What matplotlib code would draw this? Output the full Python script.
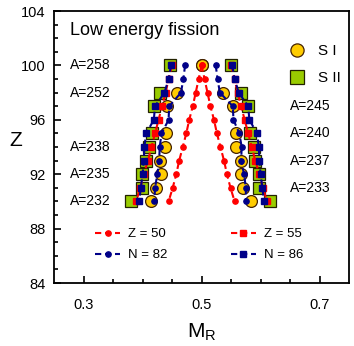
import matplotlib
matplotlib.use('Agg')
import matplotlib.pyplot as plt
from matplotlib.lines import Line2D

plt.rcParams['font.family'] = ['Liberation Sans', 'DejaVu Sans']

# fissioning systems (rows of symbols)
z_rows = [100, 98, 97, 95, 94, 93, 92, 91, 90]
s1_left = [0.500, 0.459, 0.442, 0.440, 0.438, 0.430, 0.431, 0.423, 0.414]
s1_right = [0.500, 0.536, 0.553, 0.558, 0.558, 0.567, 0.567, 0.571, 0.584]
s2_left = [0.447, 0.430, 0.419, 0.416, 0.411, 0.406, 0.399, 0.399, 0.380]
s2_right = [0.550, 0.567, 0.578, 0.582, 0.588, 0.591, 0.597, 0.598, 0.616]

# shell lines, one point per Z
z_line = [100, 99, 98, 97, 96, 95, 94, 93, 92, 91, 90]
z50_left = [0.500, 0.495, 0.490, 0.485, 0.479, 0.474, 0.468, 0.462, 0.457, 0.451, 0.444]
z50_right = [0.500, 0.505, 0.510, 0.515, 0.521, 0.526, 0.532, 0.538, 0.543, 0.549, 0.556]
z55_left = [0.450, 0.444, 0.439, 0.433, 0.427, 0.421, 0.415, 0.409, 0.402, 0.396, 0.389]
z55_right = [0.550, 0.556, 0.561, 0.567, 0.573, 0.579, 0.585, 0.591, 0.598, 0.604, 0.611]
n82_left = [0.472, 0.469, 0.465, 0.445, 0.444, 0.432, 0.429, 0.428, 0.425, 0.421, 0.420]
n82_right = [0.524, 0.527, 0.531, 0.553, 0.554, 0.564, 0.568, 0.567, 0.572, 0.575, 0.575]
n86_left = [0.448, 0.444, 0.437, 0.421, 0.419, 0.406, 0.403, 0.402, 0.400, 0.397, 0.394]
n86_right = [0.552, 0.556, 0.563, 0.579, 0.581, 0.594, 0.597, 0.598, 0.600, 0.603, 0.606]

# mass number labels
labels_left = ['A=258', 'A=252', 'A=238', 'A=235', 'A=232']
labels_left_z = [100, 98, 94, 92, 90]
labels_right = ['A=245', 'A=240', 'A=237', 'A=233']
labels_right_z = [97, 95, 93, 91]

yellow = '#FFCC00'
green = '#99CC00'
red = '#FF0000'
blue = '#000088'

fig = plt.figure(figsize=(3.54, 3.46), dpi=100)
ax = fig.add_axes([0.153, 0.182, 0.833, 0.786])

ax.plot(s2_left, z_rows, 's', ms=9, mfc=green, mec='#222200', mew=0.9, zorder=2)
ax.plot(s2_right, z_rows, 's', ms=9, mfc=green, mec='#222200', mew=0.9, zorder=2)
ax.plot(s1_left, z_rows, 'o', ms=8.5, mfc=yellow, mec='#442200', mew=0.9, zorder=3)
ax.plot(s1_right, z_rows, 'o', ms=8.5, mfc=yellow, mec='#442200', mew=0.9, zorder=3)

dash = (0, (3, 1.8))
for xs in (z50_left, z50_right):
    ax.plot(xs, z_line, color=red, ls=dash, lw=1.5, marker='o', ms=3.8, zorder=4)
for xs in (z55_left, z55_right):
    ax.plot(xs, z_line, color=red, ls=dash, lw=1.5, marker='s', ms=3.8, zorder=4)
for xs in (n82_left, n82_right):
    ax.plot(xs, z_line, color=blue, ls=dash, lw=1.5, marker='o', ms=3.8, zorder=5)
for xs in (n86_left, n86_right):
    ax.plot(xs, z_line, color=blue, ls=dash, lw=1.5, marker='s', ms=3.8, zorder=5)

for t, z in zip(labels_left, labels_left_z):
    ax.text(0.277, z, t, fontsize=10, va='center', ha='left')
for t, z in zip(labels_right, labels_right_z):
    ax.text(0.650, z, t, fontsize=10, va='center', ha='left')

ax.text(0.054, 0.930, 'Low energy fission', transform=ax.transAxes,
        fontsize=13, va='center', ha='left')

# symbol legend (top right)
sym = [Line2D([], [], ls='none', marker='o', ms=9.5, mfc=yellow, mec='#442200', mew=0.9),
       Line2D([], [], ls='none', marker='s', ms=9.5, mfc=green, mec='#222200', mew=0.9)]
leg1 = ax.legend(sym, ['S I', 'S II'], loc='upper left', frameon=False,
                 fontsize=11, handlelength=1.0, handletextpad=0.85, labelspacing=0.85,
                 bbox_to_anchor=(0.798, 0.878), borderaxespad=0, borderpad=0)
ax.add_artist(leg1)

# line legend (bottom)
lh = [Line2D([], [], color=red, ls=dash, lw=1.5, marker='o', ms=3.8),
      Line2D([], [], color=blue, ls=dash, lw=1.5, marker='o', ms=3.8),
      Line2D([], [], color=red, ls=dash, lw=1.5, marker='s', ms=3.8),
      Line2D([], [], color=blue, ls=dash, lw=1.5, marker='s', ms=3.8)]
ax.legend(lh, ['Z = 50', 'N = 82', 'Z = 55', 'N = 86'], ncol=2, frameon=False,
          fontsize=9.5, loc='upper left', bbox_to_anchor=(0.139, 0.202),
          borderaxespad=0, borderpad=0,
          handlelength=1.9, handletextpad=0.6, columnspacing=4.8, labelspacing=0.67)

ax.set_xlim(0.25, 0.75)
ax.set_ylim(84, 104)
ax.set_xticks([0.3, 0.5, 0.7])
ax.set_xticklabels(['0.3', '0.5', '0.7'])
ax.set_xticks([0.35, 0.4, 0.45, 0.55, 0.6, 0.65], minor=True)
ax.set_yticks([84, 88, 92, 96, 100, 104])
ax.set_yticks(range(85, 104), minor=True)
ax.tick_params(which='both', direction='in', labelsize=10.5, width=1.2)
ax.tick_params(which='major', length=5)
ax.tick_params(which='minor', length=3)
ax.tick_params(axis='x', pad=11)
ax.tick_params(axis='y', pad=6)
for s in ax.spines.values():
    s.set_linewidth(1.3)

ax.set_xlabel('M$_\\mathregular{R}$', fontsize=15)
ax.set_ylabel('Z', fontsize=15, rotation=0)
ax.yaxis.set_label_coords(-0.129, 0.49)
ax.xaxis.set_label_coords(0.5, -0.14)

fig.savefig('out.png', dpi=100)
